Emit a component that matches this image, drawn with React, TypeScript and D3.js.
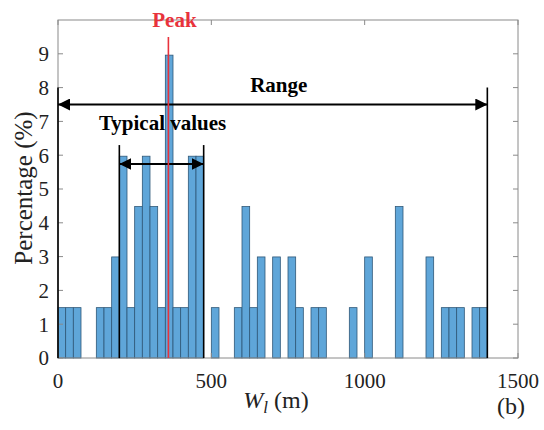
import React, { useEffect, useRef } from 'react';
import * as d3 from 'd3';

// histogram of W_l, 25 m bins from 0 to 1400 m
const binWidth = 25;
const binStarts = d3.range(0, 1400, binWidth);
const percentages = [
  1.49, 1.49, 1.49, 0, 0, 1.49, 1.49, 2.99, 5.97, 1.49,
  4.48, 5.97, 4.48, 1.49, 8.96, 1.49, 1.49, 5.97, 5.97, 0,
  1.49, 0, 0, 1.49, 4.48, 1.49, 2.99, 0, 2.99, 0,
  2.99, 1.49, 0, 1.49, 1.49, 0, 0, 0, 1.49, 0,
  2.99, 0, 0, 0, 4.48, 0, 0, 0, 2.99, 0,
  1.49, 1.49, 1.49, 0, 1.49, 1.49,
];
const xTicks = [0, 500, 1000, 1500];
const yTicks = [0, 1, 2, 3, 4, 5, 6, 7, 8, 9];

// annotations (data units)
const peakValue = 360;
const rangeBounds = [0, 1400];
const typicalBounds = [200, 475];

const W = 544;
const H = 430;
const margin = { top: 20, right: 26, bottom: 72, left: 58 };

export default function App() {
  const svgRef = useRef<SVGSVGElement>(null);

  useEffect(() => {
    if (!svgRef.current) return;
    const svg = d3.select(svgRef.current);
    svg.selectAll('*').remove();

    const x = d3.scaleLinear().domain([0, 1500]).range([margin.left, W - margin.right]);
    const y = d3.scaleLinear().domain([0, 10]).range([H - margin.bottom, margin.top]);
    const font = 'Liberation Serif, Times New Roman, Times, serif';

    const defs = svg.append('defs');
    defs.append('marker')
      .attr('id', 'arrow')
      .attr('viewBox', '0 0 12 12')
      .attr('refX', 12)
      .attr('refY', 6)
      .attr('markerWidth', 12)
      .attr('markerHeight', 12)
      .attr('markerUnits', 'userSpaceOnUse')
      .attr('orient', 'auto-start-reverse')
      .append('path')
      .attr('d', 'M0,0 L12,6 L0,12 Z')
      .attr('fill', '#000');

    // bars
    svg.append('g')
      .selectAll('rect')
      .data(binStarts.map((b, i) => ({ b, v: percentages[i] })).filter((d) => d.v > 0))
      .join('rect')
      .attr('x', (d) => x(d.b))
      .attr('y', (d) => y(d.v))
      .attr('width', (d) => x(d.b + binWidth) - x(d.b))
      .attr('height', (d) => y(0) - y(d.v))
      .attr('fill', '#5fa6d9')
      .attr('stroke', '#2f5878')
      .attr('stroke-width', 0.8);

    // axes box
    const axisColor = '#8a8a8a';
    svg.append('rect')
      .attr('x', x(0))
      .attr('y', y(10))
      .attr('width', x(1500) - x(0))
      .attr('height', y(0) - y(10))
      .attr('fill', 'none')
      .attr('stroke', axisColor)
      .attr('stroke-width', 1);

    const tickLen = 5;
    yTicks.forEach((t) => {
      svg.append('line')
        .attr('x1', x(0)).attr('x2', x(0) + tickLen)
        .attr('y1', y(t)).attr('y2', y(t))
        .attr('stroke', axisColor);
      svg.append('line')
        .attr('x1', x(1500)).attr('x2', x(1500) - tickLen)
        .attr('y1', y(t)).attr('y2', y(t))
        .attr('stroke', axisColor);
      svg.append('text')
        .attr('x', x(0) - 9)
        .attr('y', y(t))
        .attr('dy', '0.35em')
        .attr('text-anchor', 'end')
        .attr('font-family', font)
        .attr('font-size', 21)
        .attr('fill', '#222')
        .text(t);
    });

    xTicks.forEach((t) => {
      svg.append('line')
        .attr('x1', x(t)).attr('x2', x(t))
        .attr('y1', y(10)).attr('y2', y(10) + tickLen)
        .attr('stroke', axisColor);
      svg.append('line')
        .attr('x1', x(t)).attr('x2', x(t))
        .attr('y1', y(0)).attr('y2', y(0) - tickLen)
        .attr('stroke', axisColor);
      svg.append('text')
        .attr('x', x(t))
        .attr('y', 388)
        .attr('text-anchor', 'middle')
        .attr('font-family', font)
        .attr('font-size', 21)
        .attr('fill', '#222')
        .text(t);
    });

    // axis labels
    svg.append('text')
      .attr('transform', `translate(32,${188}) rotate(-90)`)
      .attr('text-anchor', 'middle')
      .attr('font-family', font)
      .attr('font-size', 25)
      .attr('fill', '#222')
      .text('Percentage (%)');

    const xl = svg.append('text')
      .attr('x', 276)
      .attr('y', 408)
      .attr('text-anchor', 'middle')
      .attr('font-family', font)
      .attr('font-size', 24)
      .attr('fill', '#222');
    xl.append('tspan').attr('font-style', 'italic').text('W');
    xl.append('tspan').attr('font-style', 'italic').attr('font-size', 17).attr('dy', 5).text('l');
    xl.append('tspan').attr('dy', -5).text(' (m)');

    svg.append('text')
      .attr('x', 511)
      .attr('y', 414)
      .attr('text-anchor', 'middle')
      .attr('font-family', font)
      .attr('font-size', 24)
      .attr('fill', '#222')
      .text('(b)');

    // Range annotation
    rangeBounds.forEach((b) => {
      svg.append('line')
        .attr('x1', x(b)).attr('x2', x(b))
        .attr('y1', y(8)).attr('y2', y(0))
        .attr('stroke', '#000').attr('stroke-width', 1.6);
    });
    svg.append('line')
      .attr('x1', x(rangeBounds[0])).attr('x2', x(rangeBounds[1]))
      .attr('y1', y(7.5)).attr('y2', y(7.5))
      .attr('stroke', '#000').attr('stroke-width', 2)
      .attr('marker-start', 'url(#arrow)')
      .attr('marker-end', 'url(#arrow)');
    svg.append('text')
      .attr('x', x(720))
      .attr('y', y(7.87))
      .attr('text-anchor', 'middle')
      .attr('font-family', font)
      .attr('font-weight', 'bold')
      .attr('font-size', 21)
      .attr('fill', '#000')
      .text('Range');

    // Typical values annotation
    typicalBounds.forEach((b) => {
      svg.append('line')
        .attr('x1', x(b)).attr('x2', x(b))
        .attr('y1', y(6.3)).attr('y2', y(0))
        .attr('stroke', '#000').attr('stroke-width', 1.6);
    });
    svg.append('line')
      .attr('x1', x(typicalBounds[0])).attr('x2', x(typicalBounds[1]))
      .attr('y1', y(5.74)).attr('y2', y(5.74))
      .attr('stroke', '#000').attr('stroke-width', 2)
      .attr('marker-start', 'url(#arrow)')
      .attr('marker-end', 'url(#arrow)');
    svg.append('text')
      .attr('x', x(341))
      .attr('y', y(6.75))
      .attr('text-anchor', 'middle')
      .attr('font-family', font)
      .attr('font-weight', 'bold')
      .attr('font-size', 21)
      .attr('fill', '#000')
      .text('Typical values');

    // Peak
    svg.append('line')
      .attr('x1', x(peakValue)).attr('x2', x(peakValue))
      .attr('y1', y(9.5)).attr('y2', y(0))
      .attr('stroke', '#e8333c').attr('stroke-width', 1.6);
    svg.append('text')
      .attr('x', x(peakValue) + 6)
      .attr('y', 27)
      .attr('text-anchor', 'middle')
      .attr('font-family', font)
      .attr('font-weight', 'bold')
      .attr('font-size', 21)
      .attr('fill', '#e8333c')
      .text('Peak');
  }, []);

  return (
    <svg
      ref={svgRef}
      width={W}
      height={H}
      style={{ position: 'absolute', left: 0, top: 0, background: '#fff' }}
    />
  );
}
